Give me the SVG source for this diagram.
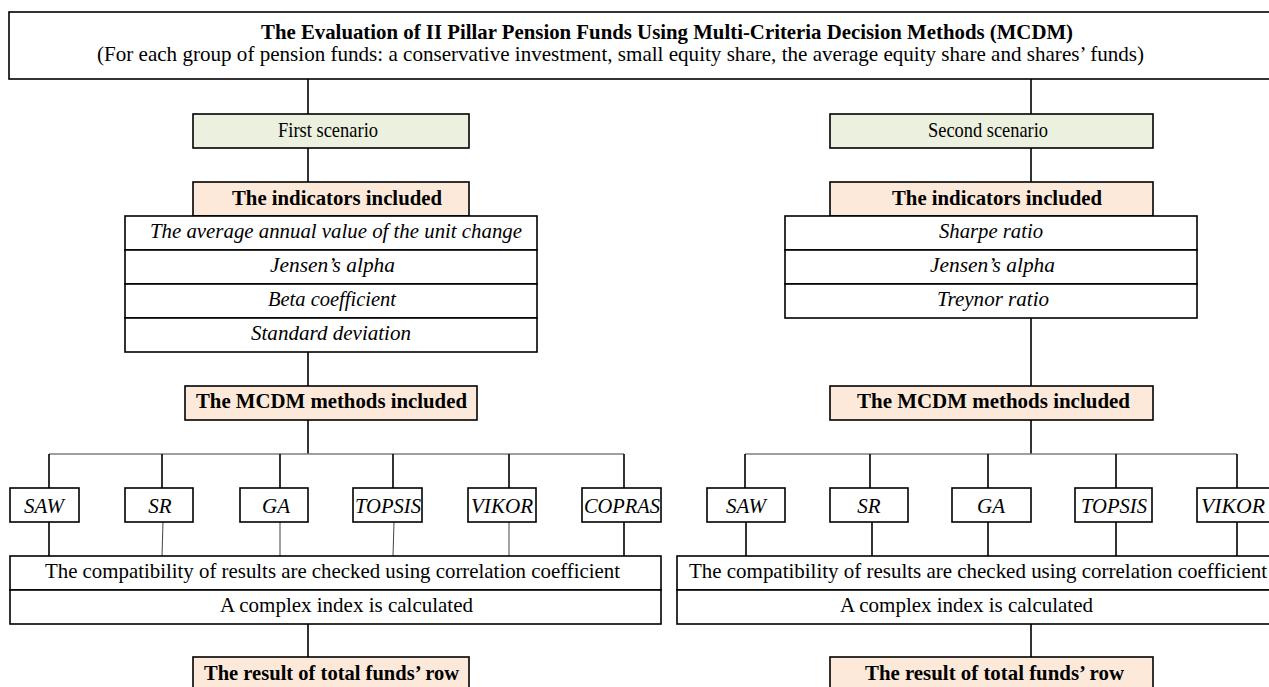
<svg xmlns="http://www.w3.org/2000/svg" width="1269" height="687" viewBox="0 0 1269 687">
<style>
  .box{fill:#ffffff;stroke:#000;stroke-width:1.6}
  .scen{fill:#EBF1DE;stroke:#000;stroke-width:1.6}
  .hdr{fill:#FDE9D9;stroke:#000;stroke-width:1.6}
  .ln{stroke:#000;stroke-width:1.6;fill:none}
  .thin{stroke:#444;stroke-width:1;fill:none}
  .bar{stroke:#7f7f7f;stroke-width:1.6;fill:none}
  text{font-family:"Liberation Serif","Times New Roman",serif;font-size:21px;fill:#000}
  .b{font-weight:bold}
  .i{font-style:italic}
  .m{text-anchor:middle}
</style>

<g id="connectors">
  <path class="ln" d="M308 79V114M308 148V182M308 352V386M308 420V454M308 624V657"/>
  <path class="ln" d="M1031 79V114M1031 148V182M1031 318V386M1031 420V454M1031 624V657"/>
  <path class="bar" d="M49 454H624"/>
  <path class="ln" d="M49 454V488M162 454V488M280 454V488M393 454V488M509 454V488M624 454V488"/>
  <path class="ln" d="M49 522V556M624 522V556"/>
  <path class="thin" d="M162 556L163 522M280 522V556M394 522L393 556M509 522V556"/>
  <path class="bar" d="M745 454H1237"/>
  <path class="ln" d="M745 454V488M870 454V488M988 454V488M1116 454V488M1237 454V488"/>
  <path class="ln" d="M746 522V556M872 522V556M988 522V556M1116 522V556M1237 522V556"/>
</g>

<g id="title">
  <rect class="box" x="9" y="12" width="1270" height="67"/>
  <text class="b" x="261" y="39" textLength="812" lengthAdjust="spacingAndGlyphs">The Evaluation of II Pillar Pension Funds Using Multi-Criteria Decision Methods (MCDM)</text>
  <text x="97" y="61" textLength="1047" lengthAdjust="spacingAndGlyphs">(For each group of pension funds: a conservative investment, small equity share, the average equity share and shares’ funds)</text>
</g>

<g id="first-scenario">
  <rect class="scen" x="193" y="114" width="276" height="34"/>
  <text x="278" y="137" textLength="100" lengthAdjust="spacingAndGlyphs">First scenario</text>
</g>
<g id="second-scenario">
  <rect class="scen" x="830" y="114" width="323" height="34"/>
  <text x="928" y="137" textLength="120" lengthAdjust="spacingAndGlyphs">Second scenario</text>
</g>

<g id="indicators-1">
  <rect class="hdr" x="193" y="182" width="276" height="34"/>
  <text class="b" x="232" y="205" textLength="210" lengthAdjust="spacingAndGlyphs">The indicators included</text>
</g>
<g id="indicators-table-1">
  <rect class="box" x="125" y="216" width="412" height="34"/>
  <rect class="box" x="125" y="250" width="412" height="34"/>
  <rect class="box" x="125" y="284" width="412" height="34"/>
  <rect class="box" x="125" y="318" width="412" height="34"/>
  <text class="i" x="150" y="238" textLength="372" lengthAdjust="spacingAndGlyphs">The average annual value of the unit change</text>
  <text class="i" x="270" y="272" textLength="125" lengthAdjust="spacingAndGlyphs">Jensen’s alpha</text>
  <text class="i" x="268" y="306" textLength="128" lengthAdjust="spacingAndGlyphs">Beta coefficient</text>
  <text class="i" x="251" y="340" textLength="160" lengthAdjust="spacingAndGlyphs">Standard deviation</text>
</g>

<g id="indicators-2">
  <rect class="hdr" x="830" y="182" width="323" height="34"/>
  <text class="b" x="892" y="205" textLength="210" lengthAdjust="spacingAndGlyphs">The indicators included</text>
</g>
<g id="indicators-table-2">
  <rect class="box" x="785" y="216" width="412" height="34"/>
  <rect class="box" x="785" y="250" width="412" height="34"/>
  <rect class="box" x="785" y="284" width="412" height="34"/>
  <text class="i" x="939" y="238" textLength="104" lengthAdjust="spacingAndGlyphs">Sharpe ratio</text>
  <text class="i" x="930" y="272" textLength="125" lengthAdjust="spacingAndGlyphs">Jensen’s alpha</text>
  <text class="i" x="937" y="306" textLength="112" lengthAdjust="spacingAndGlyphs">Treynor ratio</text>
</g>

<g id="mcdm-1">
  <rect class="hdr" x="185" y="386" width="292" height="34"/>
  <text class="b" x="196" y="408" textLength="271" lengthAdjust="spacingAndGlyphs">The MCDM methods included</text>
</g>
<g id="mcdm-2">
  <rect class="hdr" x="830" y="386" width="323" height="34"/>
  <text class="b" x="857" y="408" textLength="273" lengthAdjust="spacingAndGlyphs">The MCDM methods included</text>
</g>

<g id="methods-1">
  <g id="saw-1"><rect class="box" x="10" y="488" width="69" height="34"/><text class="i m" x="44" y="513">SAW</text></g>
  <g id="sr-1"><rect class="box" x="125" y="488" width="68" height="34"/><text class="i m" x="160" y="513">SR</text></g>
  <g id="ga-1"><rect class="box" x="240" y="488" width="68" height="34"/><text class="i m" x="276" y="513">GA</text></g>
  <g id="topsis-1"><rect class="box" x="353" y="488" width="69" height="34"/><text class="i m" x="388" y="513" textLength="66" lengthAdjust="spacingAndGlyphs">TOPSIS</text></g>
  <g id="vikor-1"><rect class="box" x="468" y="488" width="68" height="34"/><text class="i m" x="502" y="513" textLength="62" lengthAdjust="spacingAndGlyphs">VIKOR</text></g>
  <g id="copras-1"><rect class="box" x="582" y="488" width="79" height="34"/><text class="i" x="584" y="513" textLength="76" lengthAdjust="spacingAndGlyphs">COPRAS</text></g>
</g>
<g id="methods-2">
  <g id="saw-2"><rect class="box" x="707" y="488" width="78" height="34"/><text class="i m" x="746" y="513">SAW</text></g>
  <g id="sr-2"><rect class="box" x="830" y="488" width="78" height="34"/><text class="i m" x="869" y="513">SR</text></g>
  <g id="ga-2"><rect class="box" x="952" y="488" width="79" height="34"/><text class="i m" x="991" y="513">GA</text></g>
  <g id="topsis-2"><rect class="box" x="1075" y="488" width="77" height="34"/><text class="i m" x="1114" y="513" textLength="66" lengthAdjust="spacingAndGlyphs">TOPSIS</text></g>
  <g id="vikor-2"><rect class="box" x="1197" y="488" width="90" height="34"/><text class="i" x="1201" y="513" textLength="64" lengthAdjust="spacingAndGlyphs">VIKOR</text></g>
</g>

<g id="compat-1">
  <rect class="box" x="10" y="556" width="651" height="34"/>
  <rect class="box" x="10" y="590" width="651" height="34"/>
  <text x="45" y="578" textLength="575" lengthAdjust="spacingAndGlyphs">The compatibility of results are checked using correlation coefficient</text>
  <text x="220" y="612" textLength="253" lengthAdjust="spacingAndGlyphs">A complex index is calculated</text>
</g>
<g id="compat-2">
  <rect class="box" x="677" y="556" width="610" height="34"/>
  <rect class="box" x="677" y="590" width="610" height="34"/>
  <text x="689" y="578" textLength="578" lengthAdjust="spacingAndGlyphs">The compatibility of results are checked using correlation coefficient</text>
  <text x="840" y="612" textLength="253" lengthAdjust="spacingAndGlyphs">A complex index is calculated</text>
</g>

<g id="result-1">
  <rect class="hdr" x="193" y="657" width="276" height="45"/>
  <text class="b" x="204" y="680" textLength="255" lengthAdjust="spacingAndGlyphs">The result of total funds’ row</text>
</g>
<g id="result-2">
  <rect class="hdr" x="830" y="657" width="323" height="45"/>
  <text class="b" x="865" y="680" textLength="259" lengthAdjust="spacingAndGlyphs">The result of total funds’ row</text>
</g>
</svg>
